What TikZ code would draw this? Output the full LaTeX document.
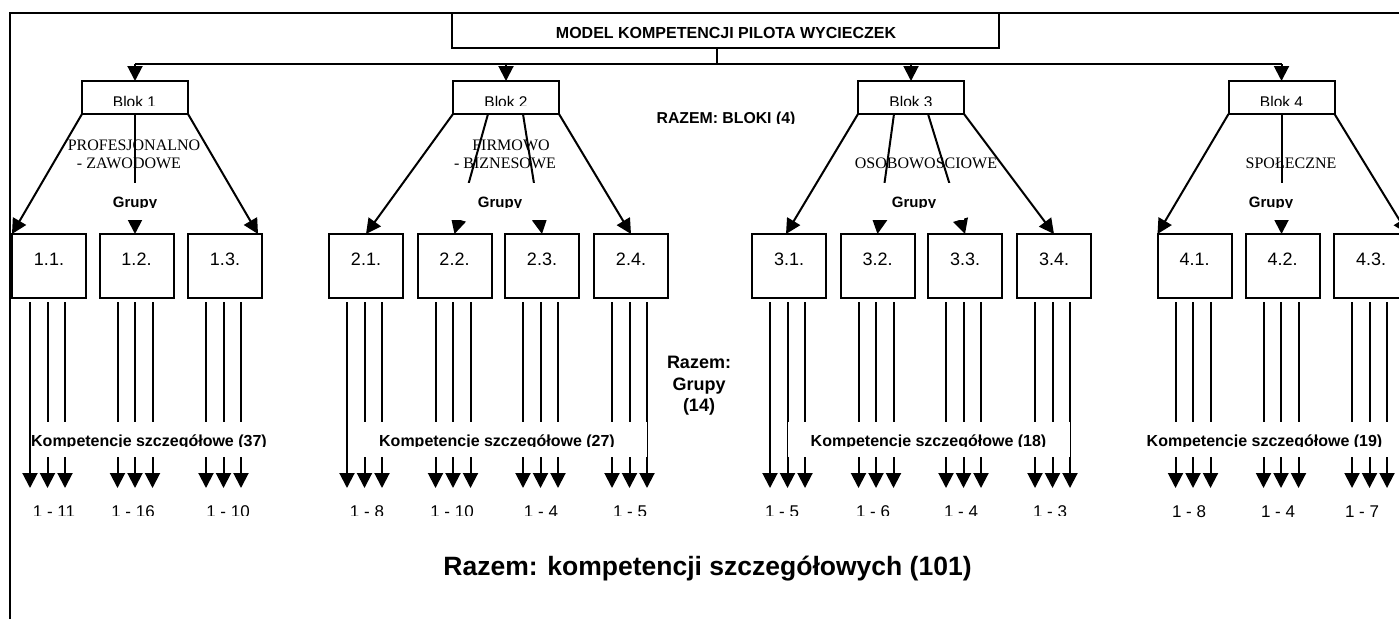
\documentclass[tikz,border=0pt]{standalone}
\usepackage{fontspec}
\setmainfont{Liberation Sans}
\newfontfamily\tnr{Liberation Serif}
\usetikzlibrary{arrows.meta}
\newcommand\cutnode[5]{\begin{scope}\clip (-20,-20) rectangle (1420,#4);\node[#1] (#2) at (#3) {#5};\end{scope}}
\begin{document}
\begin{tikzpicture}[x=1pt,y=-1pt,
  ln/.style={line width=2pt},
  arr/.style={line width=2pt,-{Triangle[width=15pt,length=15pt]}},
  thinln/.style={line width=0.8pt},
  frame/.style={line width=1.6pt},
  tbox/.style={draw,line width=2pt,minimum width=547pt,minimum height=35pt,inner sep=0pt,outer sep=0pt},
  bbox/.style={draw,line width=2pt,minimum width=106pt,minimum height=33pt,inner sep=0pt,outer sep=0pt},
  gbox/.style={draw,line width=2pt,minimum width=74pt,minimum height=64pt,inner sep=0pt,outer sep=0pt},
  gcover/.style={fill=white,draw=none,minimum width=100pt,minimum height=37pt,inner sep=0pt,outer sep=0pt},
  txt/.style={anchor=base,inner sep=0pt,outer sep=0pt},
  ttl/.style={txt,font=\bfseries\fontsize{16}{19}\selectfont},
  blk/.style={txt,font=\fontsize{15.5}{18}\selectfont},
  bold14/.style={txt,font=\bfseries\fontsize{15.8}{18}\selectfont},
  serif/.style={txt,font=\tnr\fontsize{16}{19}\selectfont},
  grp/.style={txt,font=\bfseries\fontsize{15}{18}\selectfont},
  glab/.style={txt,font=\fontsize{18}{21}\selectfont},
  rgr/.style={txt,font=\bfseries\fontsize{18}{21}\selectfont},
  komp/.style={txt,font=\bfseries\fontsize{16}{19}\selectfont},
  num/.style={txt,font=\fontsize{17}{20}\selectfont},
  big/.style={txt,font=\bfseries\fontsize{26.5}{30}\selectfont}]
\useasboundingbox (0,0) rectangle (1399,619);
\clip (0,0) rectangle (1399,619);
% frame
\draw[frame] (10,619) -- (10,13) -- (1399,13);
% title
\node[tbox] (title) at (725.5,30.5) {};
\node[ttl] (titletxt) at (726,38) {MODEL KOMPETENCJI PILOTA WYCIECZEK};
% blocks
\node[bbox] (b1) at (135,97.5) {};
\node[bbox] (b2) at (506,97.5) {};
\node[bbox] (b3) at (911,97.5) {};
\node[bbox] (b4) at (1281.5,97.5) {};
\cutnode{blk}{b1t}{134.5,107}{105}{Blok 1}
\cutnode{blk}{b2t}{506,107}{105}{Blok 2}
\cutnode{blk}{b3t}{911,107}{105}{Blok 3}
\cutnode{blk}{b4t}{1281.5,107}{105}{Blok 4}
% hub connectors
\coordinate (hub) at (717,64);
\draw[ln] ([xshift=-8.5pt]title.south) -- (hub);
\draw[ln] (b1.north |- hub) -- (b4.north |- hub);
\foreach \b in {b1,b2,b3,b4} \draw[arr] (\b.north |- hub) -- (\b.north);
\cutnode{bold14}{razb}{726,123}{123}{RAZEM: BLOKI (4)}
% group boxes
\node[gbox] (g11) at (49,266) {};
\node[gbox] (g12) at (136.5,266) {};
\node[gbox] (g13) at (225,266) {};
\node[gbox] (g21) at (366,266) {};
\node[gbox] (g22) at (454.5,266) {};
\node[gbox] (g23) at (542,266) {};
\node[gbox] (g24) at (631,266) {};
\node[gbox] (g31) at (789,266) {};
\node[gbox] (g32) at (877.5,266) {};
\node[gbox] (g33) at (965,266) {};
\node[gbox] (g34) at (1054,266) {};
\node[gbox] (g41) at (1194.5,266) {};
\node[gbox] (g42) at (1282.5,266) {};
\node[gbox] (g43) at (1371,266) {};
\foreach \g/\t in {g11/1.1.,g12/1.2.,g13/1.3.,g21/2.1.,g22/2.2.,g23/2.3.,g24/2.4.,g31/3.1.,g32/3.2.,g33/3.3.,g34/3.4.,g41/4.1.,g42/4.2.,g43/4.3.}
  \node[glab] (\g t) at (\g.center |- 0,265) {\t};
% block -> group connectors
\draw[arr] (b1.south west) -- (g11.north west);
\draw[arr] (b1.south) -- (b1.south |- g12.north);
\draw[arr] (b1.south east) -- ([xshift=-4pt]g13.north east);
\draw[arr] (b2.south west) -- (g21.north);
\draw[arr] ([xshift=-18pt]b2.south) -- (g22.north);
\draw[arr] ([xshift=17pt]b2.south) -- (g23.north);
\draw[arr] (b2.south east) -- (g24.north);
\draw[arr] (b3.south west) -- ([xshift=-3pt]g31.north);
\draw[arr] ([xshift=-17pt]b3.south) -- (g32.north);
\draw[arr] ([xshift=17pt]b3.south) -- (g33.north);
\draw[arr] (b3.south east) -- (g34.north);
\draw[arr] (b4.south west) -- (g41.north west);
\draw[arr] (b4.south) -- (b4.south |- g42.north);
\draw[arr] (b4.south east) -- (g43.north east);
% Grupy labels with white background
\node[gcover] (gc1) at (135,201.5) {};
\node[gcover] (gc2) at (500,201.5) {};
\node[gcover] (gc3) at (914,201.5) {};
\node[gcover] (gc4) at (1271,201.5) {};
\cutnode{grp}{gr1}{135,207}{207}{Grupy}
\cutnode{grp}{gr2}{500,207}{207}{Grupy}
\cutnode{grp}{gr3}{914,207}{207}{Grupy}
\cutnode{grp}{gr4}{1271,207}{207}{Grupy}
% block type labels
\node[serif] (t1a) at (134,150) {PROFESJONALNO};
\node[serif] (t1b) at (129,168) {- ZAWODOWE};
\node[serif] (t2a) at (511,150) {FIRMOWO};
\node[serif] (t2b) at (505,168) {- BIZNESOWE};
\node[serif] (t3) at (926,168) {OSOBOWOSCIOWE};
\node[serif] (t4) at (1291,168) {SPOŁECZNE};
% competence lines
\foreach \g in {g11,g12,g13,g21,g22,g23,g24,g31,g32,g33,g34,g41,g42,g43}
  \foreach \dx in {-19,-1.5,16}
    \draw[arr] ([xshift=\dx pt,yshift=-4pt]\g.south) -- ++(0,186);
% label covers
\fill[white] (31.5,422) rectangle (272,457);
\fill[white] (347,422) rectangle (647,457);
\draw[thinln] (347,421) -- (347,458);
\draw[thinln] (647,421) -- (647,458);
\fill[white] (787.5,422) rectangle (1070,457);
\draw[thinln] (787.5,421) -- (787.5,458);
\draw[thinln] (1070,421) -- (1070,458);
\fill[white] (1140,422) rectangle (1399,457);
\cutnode{komp}{k1}{149,446}{446}{Kompetencje szczegółowe (37)}
\cutnode{komp}{k2}{497,446}{446}{Kompetencje szczegółowe (27)}
\cutnode{komp}{k3}{928.5,446}{446}{Kompetencje szczegółowe (18)}
\cutnode{komp}{k4}{1264.5,446}{446}{Kompetencje szczegółowe (19)}
% range numbers
\cutnode{num}{n11}{54,517}{515}{1 - 11}
\cutnode{num}{n12}{133,517}{515}{1 - 16}
\cutnode{num}{n13}{228,517}{515}{1 - 10}
\cutnode{num}{n21}{367,517}{515}{1 - 8}
\cutnode{num}{n22}{452,517}{515}{1 - 10}
\cutnode{num}{n23}{541,517}{515}{1 - 4}
\cutnode{num}{n24}{630,517}{515}{1 - 5}
\cutnode{num}{n31}{782,517}{515}{1 - 5}
\cutnode{num}{n32}{873,517}{515}{1 - 6}
\cutnode{num}{n33}{961,517}{515}{1 - 4}
\cutnode{num}{n34}{1050,517}{515}{1 - 3}
\node[num] (n41) at (1189,517) {1 - 8};
\node[num] (n42) at (1278,517) {1 - 4};
\node[num] (n43) at (1362,517) {1 - 7};
% totals
\node[rgr] (rg1) at (699,368) {Razem:};
\node[rgr] (rg2) at (699,390) {Grupy};
\node[rgr] (rg3) at (699,411) {(14)};
\node[big] (total) at (707.5,575) {Razem: kompetencji szczegółowych (101)};
\end{tikzpicture}
\end{document}
